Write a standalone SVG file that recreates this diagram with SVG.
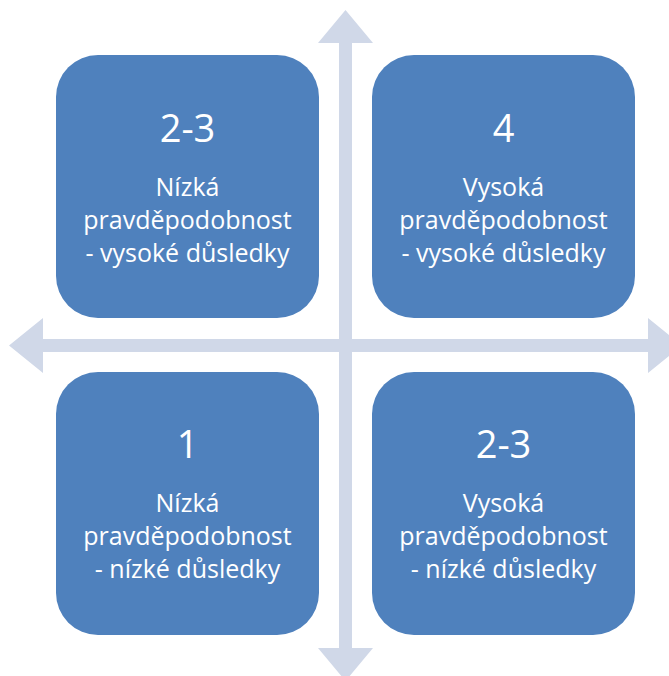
<svg xmlns="http://www.w3.org/2000/svg" width="669" height="676" viewBox="0 0 669 676">
<style>
.box{fill:#4F81BD}
.arrow{fill:#D0D8E8}
text{fill:#FFFFFF;font-family:"Open Sans","Noto Sans","Liberation Sans",sans-serif;text-anchor:middle}
.num{font-size:38px}
.lbl{font-size:25px}
</style>
<rect width="669" height="676" fill="#FFFFFF"/>
<g id="connectors">
<path class="arrow" d="M339 43 L318 43 L345.5 10 L373 43 L352 43 L352 648 L373 648 L345.5 681 L318 648 L339 648 Z"/>
<path class="arrow" d="M43 339 L43 318 L9 345.5 L43 373 L43 352 L648 352 L648 373 L682 345.5 L648 318 L648 339 Z"/>
</g>
<g id="node-tl">
<rect class="box" x="56" y="55" width="263" height="263" rx="42"/>
<text class="num" x="187.5" y="142">2-3</text>
<text class="lbl" x="187.5" y="196">Nízká</text>
<text class="lbl" x="187.5" y="229">pravděpodobnost</text>
<text class="lbl" x="187.5" y="262">- vysoké důsledky</text>
</g>
<g id="node-tr">
<rect class="box" x="372" y="55" width="263" height="263" rx="42"/>
<text class="num" x="503.5" y="142">4</text>
<text class="lbl" x="503.5" y="196">Vysoká</text>
<text class="lbl" x="503.5" y="229">pravděpodobnost</text>
<text class="lbl" x="503.5" y="262">- vysoké důsledky</text>
</g>
<g id="node-bl">
<rect class="box" x="56" y="372" width="263" height="263" rx="42"/>
<text class="num" x="187.5" y="458">1</text>
<text class="lbl" x="187.5" y="512">Nízká</text>
<text class="lbl" x="187.5" y="545">pravděpodobnost</text>
<text class="lbl" x="187.5" y="578">- nízké důsledky</text>
</g>
<g id="node-br">
<rect class="box" x="372" y="372" width="263" height="263" rx="42"/>
<text class="num" x="503.5" y="458">2-3</text>
<text class="lbl" x="503.5" y="512">Vysoká</text>
<text class="lbl" x="503.5" y="545">pravděpodobnost</text>
<text class="lbl" x="503.5" y="578">- nízké důsledky</text>
</g>
</svg>
